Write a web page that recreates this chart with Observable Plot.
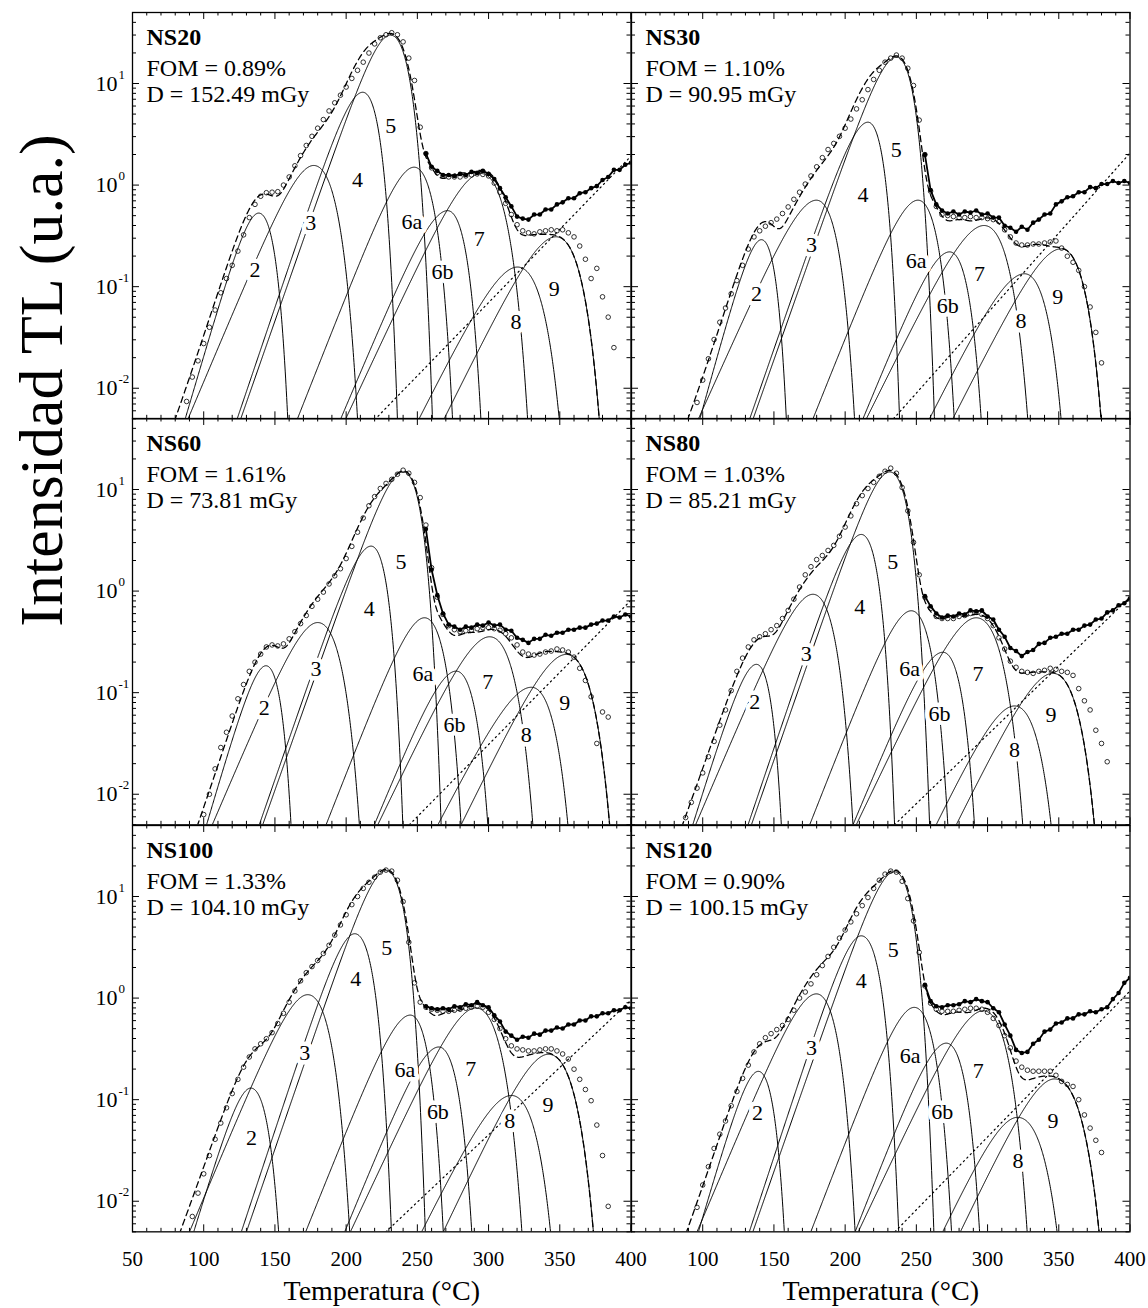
<!DOCTYPE html>
<html><head><meta charset="utf-8">
<script src="https://cdn.jsdelivr.net/npm/d3@7"></script>
<script src="https://cdn.jsdelivr.net/npm/@observablehq/plot@0.6"></script>
<style>
body{margin:0;background:#fff;}
#fig{position:relative;width:1148px;height:1308px;background:#fff;}
</style></head>
<body><div id="fig"></div>
<script>
// ---------------- DATA ----------------
const panelNames = ["NS20","NS30","NS60","NS80","NS100","NS120"];
const fomValues  = ["0.89","1.10","1.61","1.03","1.33","0.90"];
const doseValues = ["152.49","90.95","73.81","85.21","104.10","100.15"];
const peakNames  = ["2","3","4","5","6a","6b","7","8","9"];

// temperature grids of the measured points (°C)
const tempOpen = [84,88,92,96,100,104,108,112,116,120,124,128,132,136,140,144,148,152,156,160,164,168,172,176,180,184,188,192,196,200,204,208,212,216,220,224,228,232,236,240,244,248,252,256,260,264,268,272,276,280,284,288,292,296,300,304,308,312,316,320,324,328,332,336,340,344,348,352,356,360,364,368,372,376,380,384,388];
const tempRaw = [256,260,264,268,272,276,280,284,288,292,296,300,304,308,312,316,320,324,328,332,336,340,344,348,352,356,360,364,368,372,376,380,384,388,392,396,400];

// peak parameters: maximum temperature, maximum intensity, low / high foot temperature (where the peak meets 0.005)
const ns20Tm = [138.6,177.2,211.6,231,247.7,271.2,294.6,320.3,347.3];
const ns20Im = [0.53,1.56,8.2,30,1.5,0.56,1.3,0.156,0.31];
const ns20TL = [87,89,123.5,126,165.8,196.2,199.7,251.2,268.8];
const ns20TH = [159,208,236,260.6,274.7,294.6,327.4,349.6,377.7];

const ns30Tm = [141.2,179.8,216,235.9,251.1,273.3,297.5,325.9,351.6];
const ns30Im = [0.29,0.71,4.16,18.2,0.71,0.22,0.40,0.134,0.236];
const ns30TL = [98,97,133,135.4,177.4,212.5,214.9,259.2,275.6];
const ns30TH = [158.7,206.6,238.2,262.7,276.6,295.5,328.2,351.6,379.7];

const ns60Tm = [143.7,180,217.5,240,255,277.2,300.7,330,354.5];
const ns60Im = [0.184,0.49,2.77,14.9,0.546,0.163,0.355,0.113,0.238];
const ns60TL = [102,106,139,141.4,185.9,219.8,222.2,264.4,280.7];
const ns60TH = [161.3,209.3,239.8,266.7,280.7,299.5,331.1,355.7,385];

const ns80Tm = [137.7,177.4,211.3,231.2,246.4,268.6,292,318.9,345.8];
const ns80Im = [0.19,0.93,3.61,14.9,0.64,0.25,0.546,0.074,0.155];
const ns80TL = [93,95,131.8,134.2,175.1,205.5,207.8,263.9,278];
const ns80TH = [155.2,205.5,234.7,259.3,272.1,290.8,324.7,344.6,375];

const ns100Tm = [133,173,206,228,245,265,291,316,342];
const ns100Im = [0.13,1.08,4.3,18,0.68,0.33,0.8,0.11,0.28];
const ns100TL = [93,90,126.4,130,171.6,199,203,253,268.2];
const ns100TH = [152.6,202.5,231.8,255.6,268.2,288.2,323.4,343.5,373.6];

const ns120Tm = [139,179.8,211.3,234.5,248.5,271,297,321,347];
const ns120Im = [0.19,1.1,4.1,17.5,0.81,0.36,0.75,0.067,0.16];
const ns120TL = [97,96,132.7,135.2,175.9,207,209.2,268.5,280.9];
const ns120TH = [157.3,207,237.6,262.3,274.7,294.4,327.8,348.8,378.3];

// open circles: background-subtracted TL, log10 of intensity at tempOpen
const ns20Open = [null,-2.13,-1.89,-1.73,-1.56,-1.40,-1.23,-1.06,-0.92,-0.79,-0.65,-0.49,-0.32,-0.19,-0.11,-0.075,-0.07,-0.065,0.0,0.08,0.19,0.29,0.39,0.48,0.56,0.645,0.73,0.81,0.885,0.965,1.05,1.13,1.21,1.30,1.39,1.45,1.48,1.50,1.48,1.41,1.25,1.03,0.57,0.31,0.17,0.12,0.09,0.08,0.08,0.08,0.09,0.10,0.11,0.105,0.09,0.02,-0.07,-0.18,-0.29,-0.39,-0.45,-0.47,-0.48,-0.46,-0.45,-0.44,-0.45,-0.44,-0.47,-0.51,-0.60,-0.73,-0.92,-0.82,-1.10,-1.30,-1.60];
const ns30Open = [null,null,-2.34,-2.14,-1.92,-1.71,-1.52,-1.35,-1.21,-1.07,-0.94,-0.79,-0.63,-0.51,-0.45,-0.405,-0.37,-0.335,-0.28,-0.215,-0.14,-0.07,0.01,0.09,0.18,0.27,0.35,0.41,0.48,0.56,0.65,0.75,0.84,0.94,1.04,1.13,1.21,1.25,1.28,1.25,1.15,0.98,0.64,0.30,-0.06,-0.21,-0.29,-0.30,-0.31,-0.32,-0.32,-0.31,-0.32,-0.32,-0.33,-0.34,-0.36,-0.44,-0.51,-0.57,-0.59,-0.59,-0.58,-0.58,-0.57,-0.56,-0.55,-0.62,-0.70,-0.76,-0.84,-1.00,-1.20,-1.45,-1.75,null,null];
const ns60Open = [null,null,null,-2.40,-2.20,-2.0,-1.75,-1.54,-1.39,-1.23,-1.06,-0.92,-0.79,-0.70,-0.62,-0.55,-0.53,-0.54,-0.52,-0.47,-0.40,-0.32,-0.24,-0.15,-0.08,-0.01,0.07,0.15,0.22,0.32,0.44,0.58,0.72,0.84,0.93,1.01,1.06,1.10,1.15,1.19,1.16,1.07,0.92,0.65,0.23,-0.06,-0.23,-0.34,-0.38,-0.40,-0.39,-0.385,-0.37,-0.36,-0.36,-0.37,-0.385,-0.42,-0.46,-0.53,-0.60,-0.62,-0.63,-0.62,-0.60,-0.59,-0.57,-0.58,-0.60,-0.65,-0.76,-0.88,-1.04,-1.50,-1.19,-1.24,null];
const ns80Open = [null,-2.23,-2.08,-1.94,-1.79,-1.63,-1.48,-1.32,-1.17,-0.98,-0.79,-0.66,-0.55,-0.48,-0.45,-0.42,-0.38,-0.34,-0.27,-0.19,-0.08,0.04,0.16,0.24,0.31,0.35,0.40,0.45,0.54,0.63,0.74,0.86,0.94,1.01,1.07,1.13,1.18,1.21,1.16,1.02,0.79,0.48,0.16,-0.06,-0.17,-0.25,-0.27,-0.27,-0.27,-0.25,-0.24,-0.22,-0.21,-0.23,-0.27,-0.34,-0.46,-0.57,-0.69,-0.75,-0.79,-0.80,-0.81,-0.79,-0.78,-0.76,-0.77,-0.79,-0.80,-0.83,-0.96,-1.08,-1.17,-1.37,-1.50,-1.68,null];
const ns100Open = [null,null,-2.15,-1.92,-1.73,-1.55,-1.39,-1.23,-1.08,-0.94,-0.80,-0.68,-0.58,-0.50,-0.45,-0.40,-0.34,-0.25,-0.15,-0.04,0.07,0.17,0.25,0.31,0.37,0.44,0.52,0.62,0.72,0.82,0.92,1.00,1.08,1.14,1.19,1.24,1.26,1.25,1.16,0.95,0.55,0.15,-0.04,-0.09,-0.11,-0.12,-0.13,-0.13,-0.12,-0.11,-0.10,-0.09,-0.08,-0.09,-0.14,-0.21,-0.30,-0.40,-0.47,-0.50,-0.51,-0.52,-0.52,-0.51,-0.50,-0.50,-0.52,-0.55,-0.60,-0.70,-0.80,-0.90,-1.01,-1.25,-1.55,-2.05,null];
const ns120Open = [null,null,-2.4,-2.06,-1.84,-1.66,-1.48,-1.34,-1.21,-1.06,-0.92,-0.79,-0.66,-0.53,-0.45,-0.39,-0.35,-0.31,-0.27,-0.21,-0.12,0.0,0.06,0.14,0.23,0.32,0.41,0.50,0.59,0.67,0.75,0.83,0.91,0.99,1.08,1.16,1.22,1.25,1.24,1.15,0.98,0.76,0.45,0.12,-0.05,-0.11,-0.13,-0.13,-0.13,-0.12,-0.11,-0.10,-0.10,-0.11,-0.14,-0.20,-0.27,-0.37,-0.49,-0.62,-0.68,-0.71,-0.72,-0.72,-0.72,-0.72,-0.76,-0.82,-0.85,-0.87,-1.0,-1.15,-1.28,-1.40,-1.52,null,null];

// filled circles: raw TL (with background), log10 of intensity at tempRaw
const ns20Raw = [0.31,0.18,0.14,0.10,0.10,0.09,0.11,0.10,0.13,0.12,0.14,0.11,0.06,-0.03,-0.12,-0.21,-0.31,-0.33,-0.34,-0.29,-0.29,-0.24,-0.24,-0.19,-0.17,-0.13,-0.13,-0.08,-0.07,-0.03,-0.01,0.05,0.08,0.15,0.15,0.20,0.22];
const ns30Raw = [0.30,-0.05,-0.19,-0.25,-0.28,-0.26,-0.29,-0.26,-0.27,-0.25,-0.29,-0.28,-0.32,-0.32,-0.40,-0.42,-0.46,-0.41,-0.44,-0.37,-0.34,-0.29,-0.28,-0.19,-0.16,-0.12,-0.11,-0.07,-0.07,-0.02,-0.03,0.01,0.01,0.04,0.02,0.04,0.02];
const ns60Raw = [0.61,0.21,-0.04,-0.22,-0.33,-0.35,-0.38,-0.35,-0.36,-0.33,-0.34,-0.31,-0.34,-0.33,-0.38,-0.39,-0.46,-0.48,-0.51,-0.47,-0.47,-0.43,-0.44,-0.41,-0.41,-0.38,-0.38,-0.36,-0.36,-0.33,-0.32,-0.29,-0.29,-0.25,-0.26,-0.23,-0.25];
const ns80Raw = [-0.05,-0.15,-0.22,-0.26,-0.24,-0.25,-0.22,-0.23,-0.19,-0.20,-0.19,-0.25,-0.28,-0.38,-0.45,-0.56,-0.59,-0.64,-0.60,-0.58,-0.52,-0.51,-0.46,-0.45,-0.42,-0.42,-0.38,-0.38,-0.34,-0.33,-0.28,-0.27,-0.21,-0.19,-0.14,-0.12,-0.07];
const ns100Raw = [-0.08,-0.10,-0.11,-0.10,-0.11,-0.08,-0.09,-0.06,-0.07,-0.04,-0.07,-0.09,-0.17,-0.23,-0.33,-0.37,-0.41,-0.38,-0.39,-0.35,-0.36,-0.32,-0.32,-0.29,-0.30,-0.26,-0.26,-0.22,-0.22,-0.18,-0.18,-0.15,-0.15,-0.12,-0.12,-0.09,-0.10];
const ns120Raw = [0.13,-0.03,-0.08,-0.09,-0.07,-0.07,-0.06,-0.03,-0.04,-0.01,-0.03,-0.04,-0.10,-0.14,-0.26,-0.37,-0.51,-0.54,-0.53,-0.45,-0.41,-0.33,-0.31,-0.25,-0.24,-0.20,-0.20,-0.16,-0.16,-0.13,-0.14,-0.11,-0.09,-0.01,0.05,0.15,0.20];

// background (dotted, exponential): two end points, temperature and log10 intensity
const ns20BgT = [220,400],   ns20BgLog = [-2.31,0.285];
const ns30BgT = [234,400],   ns30BgLog = [-2.30,0.315];
const ns60BgT = [244.4,400], ns60BgLog = [-2.30,-0.09];
const ns80BgT = [234.7,400], ns80BgLog = [-2.30,-0.06];
const ns100BgT = [228,400],  ns100BgLog = [-2.30,-0.02];
const ns120BgT = [235,400],  ns120BgLog = [-2.30,0.07];

// peak-number labels: temperature and log10 intensity of their centre
const ns20LabT = [136,175.1,207.9,231.3,246.1,267.6,293.4,319.2,346.1];
const ns20LabLog = [-0.84,-0.37,0.046,0.587,-0.365,-0.857,-0.528,-1.35,-1.02];
const ns30LabT = [137.7,176.3,212.5,235.9,249.9,272.1,294.3,323.5,349.3];
const ns30LabLog = [-1.07,-0.594,-0.102,0.341,-0.742,-1.185,-0.873,-1.333,-1.103];
const ns60LabT = [142.5,178.8,216.3,238.6,253.8,276.1,299.5,326.4,353.4];
const ns60LabLog = [-1.155,-0.762,-0.171,0.288,-0.811,-1.319,-0.893,-1.418,-1.106];
const ns80LabT = [136.5,172.7,210.2,233.5,245.2,266.3,293.2,318.9,344.6];
const ns80LabLog = [-1.09,-0.614,-0.155,0.288,-0.762,-1.205,-0.811,-1.565,-1.221];
const ns100LabT = [133.6,170.9,206.7,228.5,241.2,264.4,287.5,314.9,341.7];
const ns100LabLog = [-1.38,-0.54,0.19,0.49,-0.71,-1.12,-0.70,-1.21,-1.05];
const ns120LabT = [138.4,176.3,211.3,233.8,245.7,268.1,293.4,321.4,346];
const ns120LabLog = [-1.13,-0.49,0.17,0.47,-0.57,-1.12,-0.72,-1.60,-1.21];

// axis tick labels
const xTickLabelsLeft = [50,100,150,200,250,300,350,400];
const xTickLabelsRight = [100,150,200,250,300,350,400];
const yDecades = [0.01,0.1,1,10];

// ---------------- BUILD ----------------
const panels = [
  {col:0,row:0,Tm:ns20Tm,Im:ns20Im,TL:ns20TL,TH:ns20TH,open:ns20Open,raw:ns20Raw,bgT:ns20BgT,bgL:ns20BgLog,labT:ns20LabT,labL:ns20LabLog},
  {col:1,row:0,Tm:ns30Tm,Im:ns30Im,TL:ns30TL,TH:ns30TH,open:ns30Open,raw:ns30Raw,bgT:ns30BgT,bgL:ns30BgLog,labT:ns30LabT,labL:ns30LabLog},
  {col:0,row:1,Tm:ns60Tm,Im:ns60Im,TL:ns60TL,TH:ns60TH,open:ns60Open,raw:ns60Raw,bgT:ns60BgT,bgL:ns60BgLog,labT:ns60LabT,labL:ns60LabLog},
  {col:1,row:1,Tm:ns80Tm,Im:ns80Im,TL:ns80TL,TH:ns80TH,open:ns80Open,raw:ns80Raw,bgT:ns80BgT,bgL:ns80BgLog,labT:ns80LabT,labL:ns80LabLog},
  {col:0,row:2,Tm:ns100Tm,Im:ns100Im,TL:ns100TL,TH:ns100TH,open:ns100Open,raw:ns100Raw,bgT:ns100BgT,bgL:ns100BgLog,labT:ns100LabT,labL:ns100LabLog},
  {col:1,row:2,Tm:ns120Tm,Im:ns120Im,TL:ns120TL,TH:ns120TH,open:ns120Open,raw:ns120Raw,bgT:ns120BgT,bgL:ns120BgLog,labT:ns120LabT,labL:ns120LabLog}
];
panels.forEach((p,i)=>{p.name=panelNames[i];p.fom=fomValues[i];p.dose=doseValues[i];});

const FLOOR = 0.005;
// first-order glow-peak shape ln(I/Im) = 1 + W - exp(W), W linear in T,
// with the left / right scale set by the read foot temperatures
function glowPeak(Tm, Im, TL, TH) {
  const R = Math.log(Im / FLOOR);
  let wl = -(R + 1);
  for (let i = 0; i < 20; i++) wl = -(R + 1) + Math.exp(wl);
  let wr = 2;
  for (let i = 0; i < 60; i++) wr = wr - (Math.exp(wr) - wr - 1 - R) / (Math.exp(wr) - 1);
  const aL = wl / (TL - Tm);
  const aR = wr / (TH - Tm);
  return T => {
    const w = (T <= Tm ? aL : aR) * (T - Tm);
    return Im * Math.exp(1 + w - Math.exp(w));
  };
}

const PW = 498.5, PH = 406.33;
const frameLefts = [132, 630.5];
const frameTops = [12, 12 + PH, 12 + 2 * PH];
const FONT = "'Liberation Serif','Times New Roman',serif";

const xMajor = d3.range(50, 401, 50);
const xMinor = d3.range(50, 401, 10).filter(v => v % 50 !== 0);
const yMajor = [0.01, 0.1, 1, 10];
const yMinor = [];
for (let e = -3; e <= 1; e++) for (let k = 2; k <= 9; k++) { const v = k * 10 ** e; if (v >= 0.005 && v <= 50) yMinor.push(v); }

const fig = document.getElementById("fig");

panels.forEach(p => {
  const fns = p.Tm.map((tm, j) => glowPeak(tm, p.Im[j], p.TL[j], p.TH[j]));
  const peakPts = [];
  fns.forEach((f, j) => {
    for (let T = Math.max(50, p.TL[j] - 10); T <= Math.min(400, p.TH[j] + 0.5); T += 0.25) {
      const I = f(T);
      if (I > 0.002) peakPts.push({T, I, id: peakNames[j]});
    }
  });
  const fitPts = [];
  for (let T = 60; T <= 398; T += 0.5) {
    const I = d3.sum(fns, f => f(T));
    if (I > 0.002) fitPts.push({T, I});
  }
  const openPts = tempOpen.map((T, k) => ({T, v: p.open[k]})).filter(d => d.v != null).map(d => ({T: d.T, I: 10 ** d.v}));
  const rawPts = tempRaw.map((T, k) => ({T, I: 10 ** p.raw[k]}));
  const bgPts = p.bgT.map((T, k) => ({T, I: 10 ** p.bgL[k]}));
  const labPts = peakNames.map((n, k) => ({T: p.labT[k], I: 10 ** p.labL[k], n}));

  const mL = p.col === 0 ? 132 : 10, mR = p.col === 1 ? 19 : 10;
  const mT = p.row === 0 ? 12 : 10, mB = p.row === 2 ? 77 : 10;

  const marks = [
    Plot.line(peakPts, {x: "T", y: "I", z: "id", stroke: "black", strokeWidth: 1, clip: true}),
    Plot.line(bgPts, {x: "T", y: "I", stroke: "black", strokeWidth: 1.2, strokeDasharray: "1.3,3.6", clip: true}),
    Plot.line(fitPts, {x: "T", y: "I", stroke: "black", strokeWidth: 1.3, strokeDasharray: "6,4", clip: true}),
    Plot.line(rawPts, {x: "T", y: "I", stroke: "black", strokeWidth: 1.8, clip: true}),
    Plot.dot(rawPts, {x: "T", y: "I", r: 2.3, fill: "black", stroke: "none", clip: true}),
    Plot.dot(openPts, {x: "T", y: "I", r: 2.3, stroke: "black", strokeWidth: 0.8, fill: "none", clip: true}),
    Plot.text(labPts, {x: "T", y: "I", text: "n", fontSize: 22, fill: "black", stroke: "white", strokeWidth: 9}),
    // ticks (inward, all four sides)
    Plot.tickX(xMajor, {x: d => d, insetTop: PH - 7, stroke: "black"}),
    Plot.tickX(xMajor, {x: d => d, insetBottom: PH - 7, stroke: "black"}),
    Plot.tickX(xMinor, {x: d => d, insetTop: PH - 3.5, stroke: "black"}),
    Plot.tickX(xMinor, {x: d => d, insetBottom: PH - 3.5, stroke: "black"}),
    Plot.tickY(yMajor, {y: d => d, insetRight: PW - 7, stroke: "black"}),
    Plot.tickY(yMajor, {y: d => d, insetLeft: PW - 7, stroke: "black"}),
    Plot.tickY(yMinor, {y: d => d, insetRight: PW - 4, stroke: "black"}),
    Plot.tickY(yMinor, {y: d => d, insetLeft: PW - 4, stroke: "black"}),
    Plot.frame({stroke: "black", strokeWidth: 1.3}),
    // panel annotations
    Plot.text([p.name], {frameAnchor: "top-left", dx: 14, dy: 33, lineAnchor: "bottom", textAnchor: "start", fontSize: 24, fontWeight: "bold", text: d => d}),
    Plot.text(["FOM = " + p.fom + "%"], {frameAnchor: "top-left", dx: 14, dy: 64, lineAnchor: "bottom", textAnchor: "start", fontSize: 24, text: d => d}),
    Plot.text(["D = " + p.dose + " mGy"], {frameAnchor: "top-left", dx: 14, dy: 90, lineAnchor: "bottom", textAnchor: "start", fontSize: 24, text: d => d})
  ];
  if (p.col === 0) {
    marks.push(
      Plot.text(yDecades, {y: d => d, frameAnchor: "left", dx: -15, textAnchor: "end", lineAnchor: "middle", fontSize: 22, text: () => "10"}),
      Plot.text(yDecades, {y: d => d, frameAnchor: "left", dx: -14, dy: -9, textAnchor: "start", lineAnchor: "middle", fontSize: 13, text: d => String(Math.round(Math.log10(d)))})
    );
  }
  if (p.row === 2) {
    marks.push(
      Plot.text(p.col === 0 ? xTickLabelsLeft : xTickLabelsRight, {x: d => d, frameAnchor: "bottom", dy: 27, lineAnchor: "middle", fontSize: 21, text: d => String(d)}),
      Plot.text(["Temperatura (°C)"], {frameAnchor: "bottom", dy: 68, lineAnchor: "bottom", fontSize: 28, text: d => d})
    );
  }
  if (p.col === 0 && p.row === 1) {
    marks.push(Plot.text(["Intensidad TL (u.a.)"], {frameAnchor: "left", dx: -90, dy: 5, rotate: -90, lineAnchor: "middle", fontSize: 62, text: d => d}));
  }

  const svg = Plot.plot({
    width: PW + mL + mR,
    height: PH + mT + mB,
    marginLeft: mL, marginRight: mR, marginTop: mT, marginBottom: mB,
    x: {domain: [50, 400], axis: null},
    y: {type: "log", domain: [0.005, 50], axis: null},
    style: `background: transparent; overflow: visible; font-family: ${FONT}; color: black;`,
    marks
  });
  svg.style.position = "absolute";
  svg.style.left = (frameLefts[p.col] - mL) + "px";
  svg.style.top = (frameTops[p.row] - mT) + "px";
  svg.style.maxWidth = "none";
  fig.appendChild(svg);
});
</script>
</body></html>
